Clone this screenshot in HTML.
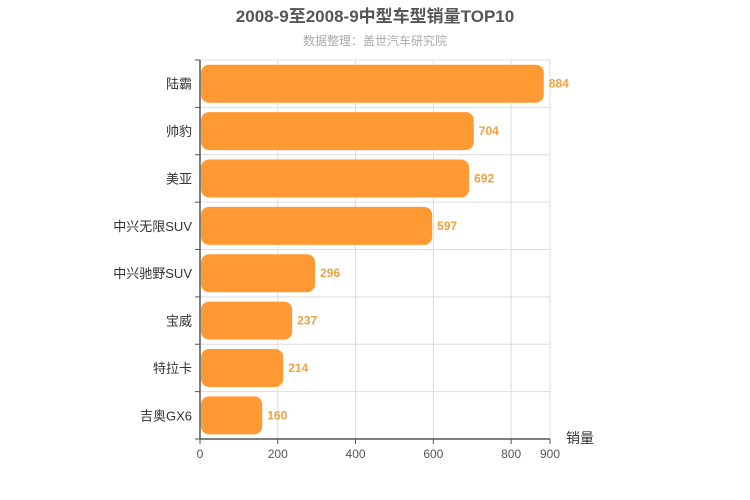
<!DOCTYPE html>
<html><head><meta charset="utf-8"><style>
body{margin:0;background:#fff;}
svg{display:block;font-family:"Liberation Sans","Noto Sans CJK SC",sans-serif;}
</style></head><body>
<svg id="c" width="750" height="500">
<text x="375" y="22" text-anchor="middle" font-size="17" font-weight="bold" fill="#555">2008-9至2008-9中型车型销量TOP10</text>
<text x="375" y="45" text-anchor="middle" font-size="12" fill="#aaa">数据整理：盖世汽车研究院</text>
<g id="grid"></g><g id="bars"></g><g id="axes"></g>
<text x="580" y="443" text-anchor="middle" font-size="14" fill="#333">销量</text>
</svg>
<script>
const categories=["陆霸","帅豹","美亚","中兴无限SUV","中兴驰野SUV","宝威","特拉卡","吉奥GX6"];
const values=[884,704,692,597,296,237,214,160];
const xTicks=[0,200,400,600,800,900];
const X0=200,X1=550,Y0=60,Y1=439,MAX=900;
const ns="http://www.w3.org/2000/svg";
const x=v=>X0+(X1-X0)*v/MAX;
const band=(Y1-Y0)/categories.length;
const y=i=>Y0+band*i;
function mk(t,a,p){const e=document.createElementNS(ns,t);for(const k in a)e.setAttribute(k,a[k]);p.appendChild(e);return e;}
const g=document.getElementById('grid'),b=document.getElementById('bars'),ax=document.getElementById('axes');
xTicks.forEach(t=>{
 const l=mk('line',{x1:x(t),x2:x(t),y1:Y0,y2:Y1,stroke:'#ddd'},g);
 
 
 const tk=mk('line',{x1:x(t),x2:x(t),y1:Y1,y2:Y1+5,stroke:'#555'},ax);
 const tx=mk('text',{x:x(t),y:Y1+19,'text-anchor':'middle','font-size':12,fill:'#555'},ax);
 tx.textContent=t;
 
 
});
for(let i=0;i<=categories.length;i++){
 if(i<categories.length){const l=mk('line',{x1:X0,x2:X1,y1:y(i),y2:y(i),stroke:'#ddd'},g);
 
 }
 mk('line',{x1:X0-5,x2:X0,y1:y(i),y2:y(i),stroke:'#555'},ax);
}
mk('line',{x1:X0,x2:X0,y1:Y0,y2:Y1,stroke:'#555','stroke-width':1.5},ax);
mk('line',{x1:X0,x2:X1,y1:Y1,y2:Y1,stroke:'#555','stroke-width':1.5},ax);
categories.forEach((c,i)=>{
 const h=38,top=y(i)+(band-h)/2;
 const r=mk('rect',{x:X0+1,y:top,width:x(values[i])-X0-1,height:h,rx:8,fill:'#ff9933'},b);
 
 
 const v=mk('text',{x:x(values[i])+5,y:top+h/2+4,'font-size':12,'font-weight':'bold',fill:'#f0a040'},b);
 v.textContent=values[i];
 
 
 const t=mk('text',{x:X0-8,y:top+h/2+5,'text-anchor':'end','font-size':13,fill:'#333'},ax);
 t.textContent=c;
 
 
});
</script>
</body></html>
